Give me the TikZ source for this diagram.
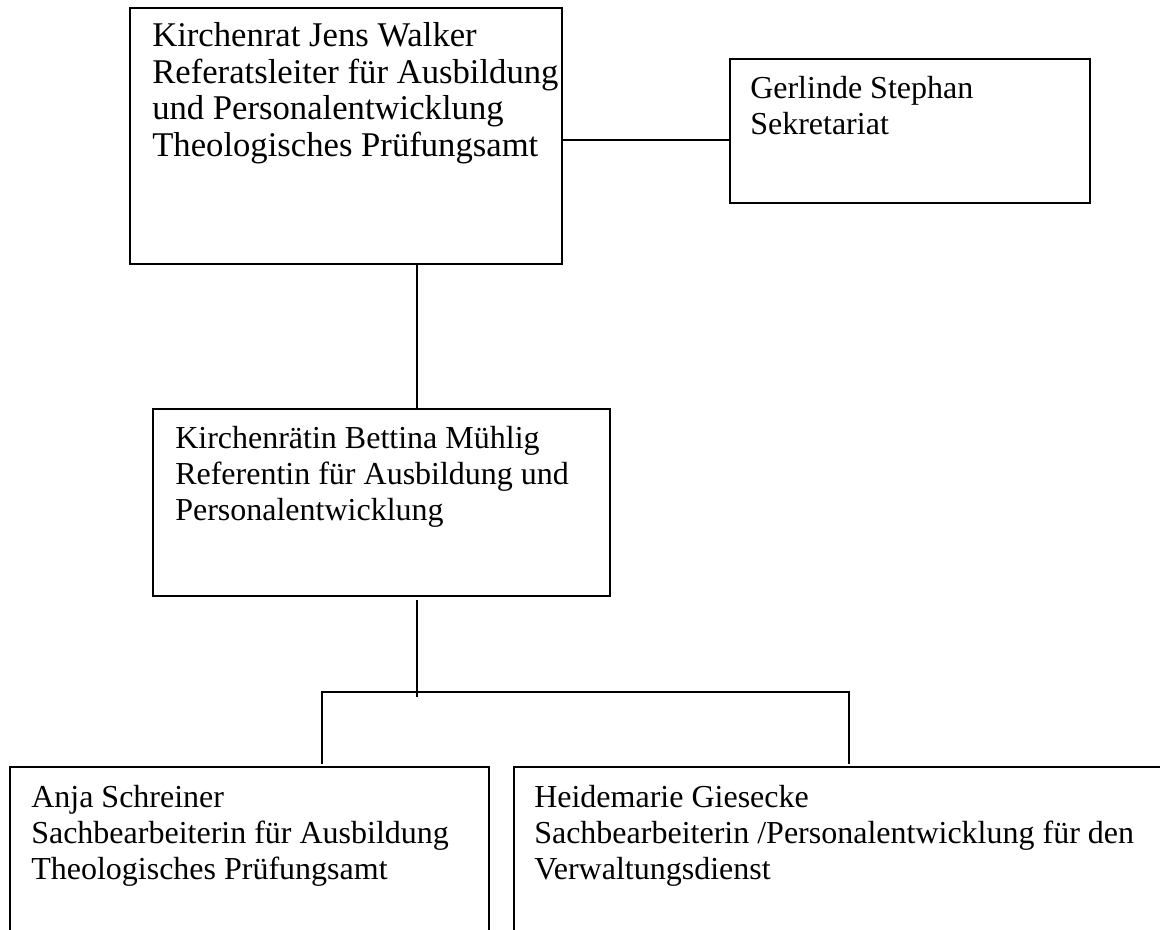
\documentclass[tikz,border=0pt]{standalone}
\usepackage{fontspec}
\setmainfont{Liberation Serif}
\begin{document}
\begin{tikzpicture}[x=0.75pt,y=-0.75pt,
  box/.style={draw=black,line width=1.4pt,anchor=north west,inner sep=0pt,outer sep=0pt},
  txt/.style={anchor=base west,inner sep=0pt,font=\fontsize{24}{27}\selectfont},
  bigtxt/.style={txt,font=\fontsize{26}{27.3}\selectfont},
  conn/.style={draw=black,line width=1.3pt}]
\useasboundingbox (0,0) rectangle (1160,930);
\clip (0,0) rectangle (1160,930);
% boxes
\node[box,minimum width=432*0.75pt,minimum height=256*0.75pt] (b1) at (130,8) {};
\node[box,minimum width=360*0.75pt,minimum height=144*0.75pt] (b2) at (730,59) {};
\node[box,minimum width=457*0.75pt,minimum height=187*0.75pt] (b3) at (153,409) {};
\node[box,minimum width=479*0.75pt,minimum height=180*0.75pt] (b4) at (10,767) {};
\node[box,minimum width=660*0.75pt,minimum height=180*0.75pt] (b5) at (514,767) {};
% texts
\node[bigtxt] (t1) at (152,47) {\begin{tabular}[t]{@{}l@{}}Kirchenrat Jens Walker\\Referatsleiter für Ausbildung\\und Personalentwicklung\\Theologisches Prüfungsamt\end{tabular}};
\node[txt] (t2) at (750,99) {\begin{tabular}[t]{@{}l@{}}Gerlinde Stephan\\Sekretariat\end{tabular}};
\node[txt] (t3) at (175,449) {\begin{tabular}[t]{@{}l@{}}Kirchenrätin Bettina Mühlig\\Referentin für Ausbildung und\\Personalentwicklung\end{tabular}};
\node[txt] (t4) at (31,807) {\begin{tabular}[t]{@{}l@{}}Anja Schreiner\\Sachbearbeiterin für Ausbildung\\Theologisches Prüfungsamt\end{tabular}};
\node[txt] (t5) at (534,807) {\begin{tabular}[t]{@{}l@{}}Heidemarie Giesecke\\Sachbearbeiterin /Personalentwicklung für den\\Verwaltungsdienst\end{tabular}};
% helper coordinates
\coordinate (h1) at (0,140);
\coordinate (v1) at (417,0);
\coordinate (top3) at (417,600);
\coordinate (j) at (417,697);
\coordinate (jl) at (322,692);
\coordinate (jr) at (849,692);
\coordinate (e4) at (322,764);
\coordinate (e5) at (849,764);
% connectors
\draw[conn] (b1.east |- h1) -- (b2.west |- h1);
\draw[conn] (b1.south -| v1) -- (b3.north -| v1);
\draw[conn] (top3) -- (j);
\draw[conn] (e4) -- (jl) -- (jr) -- (e5);
\end{tikzpicture}
\end{document}
